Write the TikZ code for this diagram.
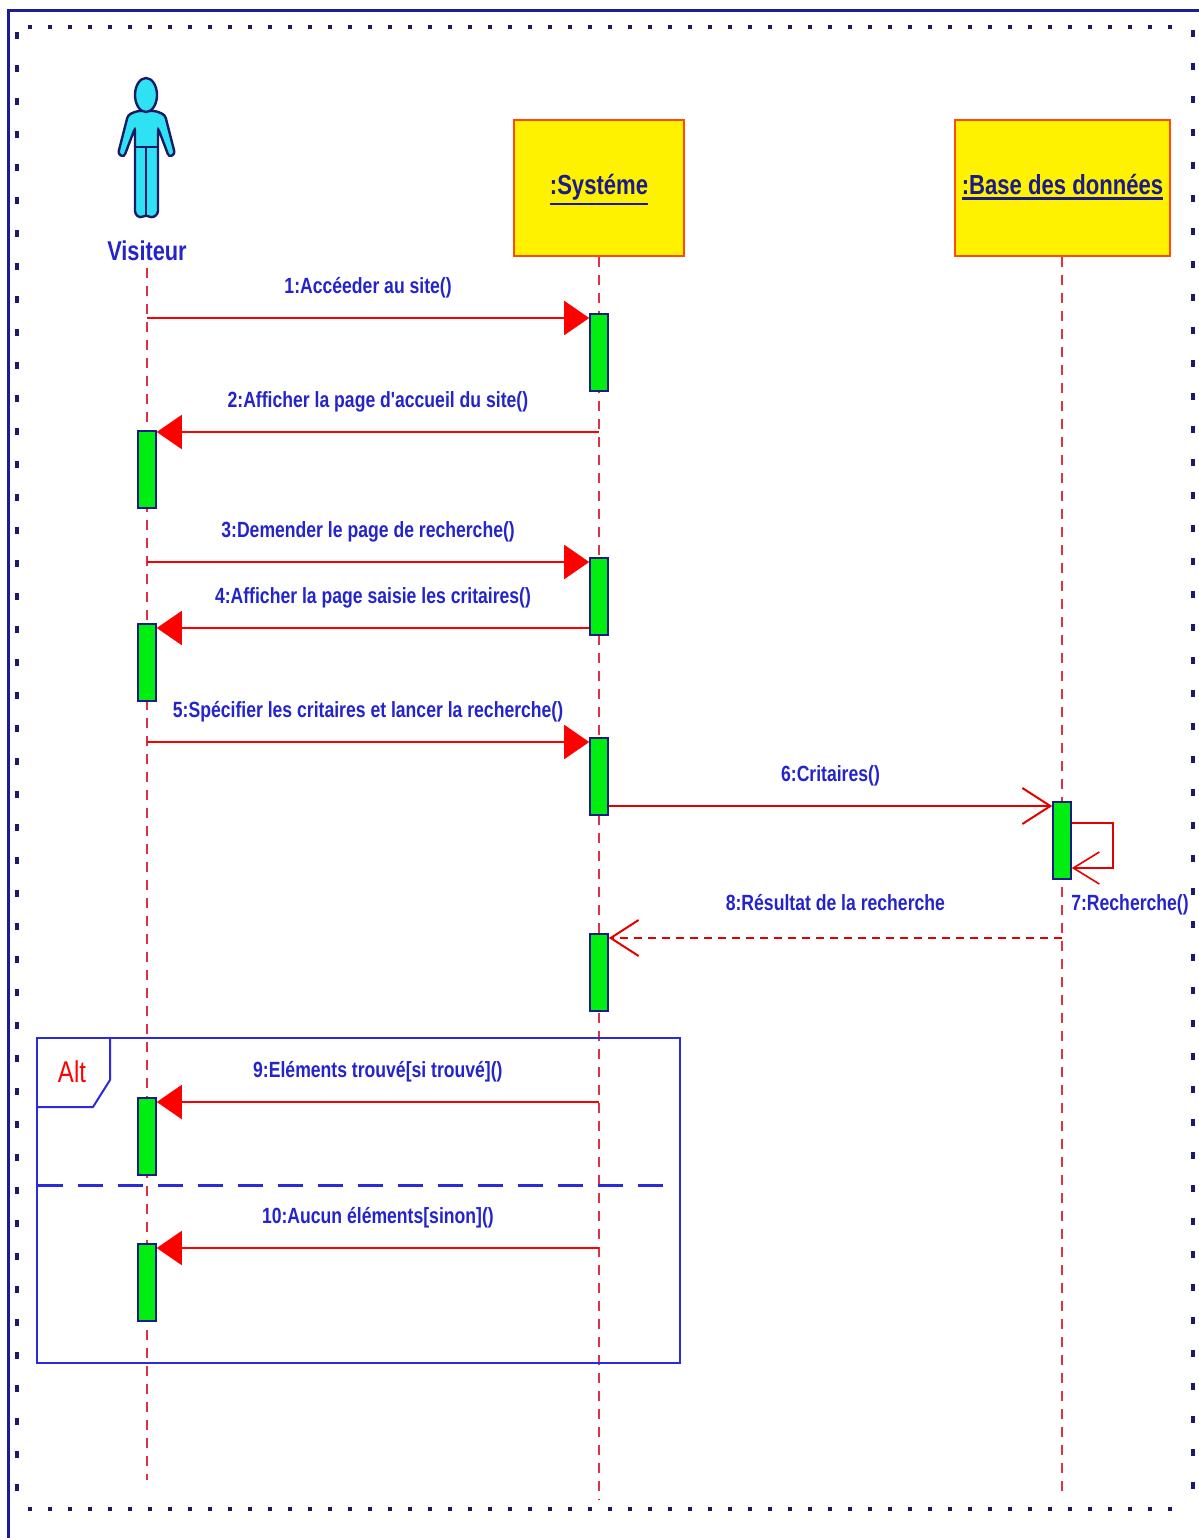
\documentclass[tikz,border=0pt]{standalone}
\usepackage{fontspec}
\setmainfont{Liberation Sans}[FakeStretch=0.8]
\newfontfamily\quotefont{Liberation Sans}[FakeStretch=0.8, Ligatures=TeXOff]
\usetikzlibrary{arrows.meta}
\newcommand{\thickul}[1]{\leavevmode\vtop{\hbox{#1}\kern1.6pt\hrule height 1.1pt}}
\newcommand{\sq}{{\quotefont\bfseries'}}
\definecolor{frameblue}{HTML}{1C1C96}
\definecolor{dotblue}{HTML}{1A1A66}
\definecolor{msgblue}{HTML}{2424CC}
\definecolor{titleblue}{HTML}{1A1A8C}
\definecolor{altblue}{HTML}{2A2AE0}
\definecolor{lifered}{HTML}{DD3344}
\definecolor{boxline}{HTML}{FF4A10}
\definecolor{barfill}{HTML}{00EE10}
\definecolor{actorfill}{HTML}{2EE2F4}

\begin{document}
\begin{tikzpicture}[x=0.5pt,y=-0.5pt,
    obj/.style={rectangle, draw=boxline, line width=1.2pt, fill=yellow, font=\fontsize{13.8}{16}\selectfont\bfseries, text=titleblue, text height=10pt, text depth=4pt},
    act/.style={rectangle, draw=titleblue, line width=0.8pt, fill=barfill, minimum width=9pt, minimum height=38.5pt, inner sep=0pt, anchor=north},
    life/.style={lifered, line width=1pt, dash pattern=on 5pt off 4pt},
    call/.style={red, line width=1pt, -{Triangle[length=12.5pt, width=17pt]}},
    async/.style={red!90!black, line width=1pt, -{Straight Barb[length=14pt, width=18pt]}},
    reply/.style={async, dash pattern=on 4pt off 3pt},
    lbl/.style={above=6pt, text=msgblue, font=\fontsize{11}{13}\selectfont\bfseries}]
    \useasboundingbox (0,0) rectangle (1199,1538);

    \draw[frameblue, line width=1.5pt] (8,1560) -- (8,10) -- (1220,10);
    \draw[dotblue, line width=2.2pt, dash pattern=on 1.8pt off 8.2pt] (28,27) -- (1185,27);
    \draw[dotblue, line width=2.2pt, dash pattern=on 1.8pt off 8.2pt] (28,1509) -- (1185,1509);
    \draw[dotblue, line width=1.8pt, dash pattern=on 3.5pt off 13pt] (17,32) -- (17,1512);
    \draw[dotblue, line width=1.8pt, dash pattern=on 3.5pt off 13pt] (1193,30) -- (1193,1512);

    \filldraw[fill=actorfill, draw=dotblue, line width=1.2pt, rounded corners=1.5pt]
        (137,111) -- (128,115) -- (118,154) -- (124,157) -- (135,128) -- (135,214) -- (140,218) -- (146,215)
        -- (152,218) -- (158,214) -- (158,128) -- (169,157) -- (175,154) -- (165,115) -- (156,111) -- cycle;
    \draw[dotblue, line width=1.2pt] (135,147) -- (158,147) (146,147) -- (146,215);
    \filldraw[fill=actorfill, draw=dotblue, line width=1.2pt] (146,95) ellipse (5.5pt and 8.5pt);

    \node[text=msgblue, font=\fontsize{13.6}{16}\selectfont\bfseries] (1) at (147,251) {Visiteur};
    \node[obj, minimum width=85pt, minimum height=68pt] (2) at (599,188) {\thickul{:Systéme}};
    \node[obj, minimum width=105.5pt, minimum height=68pt] (3) at (1062.5,188) {\thickul{:Base des données}};

    \coordinate (e1) at (147,1480);
    \coordinate (e2) at (599,1500);
    \coordinate (e3) at (1062,1495);
    \draw[life] (1.south) -- (e1);
    \draw[life] (2.south -| e2) -- (e2);
    \draw[life] (3.south -| e3) -- (e3);

    \draw[altblue, line width=1pt] (37,1038) rectangle (680,1363);
    \draw[altblue, line width=1pt] (110,1038) -- (110,1080) -- (93,1107) -- (37,1107);
    \node[text=red, font=\fontsize{15}{17}\selectfont] (13) at (72,1072) {Alt};
    \draw[altblue, line width=1.5pt, dash pattern=on 12.5pt off 7.5pt] (38,1185) -- (665,1185);

    \node[act] (4) at (599,313) {};
    \node[act] (5) at (147,430) {};
    \node[act] (6) at (599,557) {};
    \node[act] (7) at (147,623) {};
    \node[act] (8) at (599,737) {};
    \node[act] (9) at (1062,801) {};
    \node[act] (10) at (599,933) {};
    \node[act] (11) at (147,1097) {};
    \node[act] (12) at (147,1243) {};

    \coordinate (m1) at (147,318);
    \coordinate (m2) at (599,432);
    \coordinate (m3) at (147,562);
    \coordinate (m4) at (599,628);
    \coordinate (m5) at (147,742);
    \coordinate (m6) at (599,806);
    \coordinate (m8) at (1062,938);
    \coordinate (m9) at (599,1102);
    \coordinate (m10) at (599,1248);

    \path[every node/.style={lbl}]
        (m1) edge[call] node{1:Accéeder au site()} (m1 -| 4.west)
        (m2) edge[call] node{2:Afficher la page d\sq accueil du site()} (m2 -| 5.east)
        (m3) edge[call] node{3:Demender le page de recherche()} (m3 -| 6.west)
        (m4 -| 6.west) edge[call] node{4:Afficher la page saisie les critaires()} (m4 -| 7.east)
        (m5) edge[call] node{5:Spécifier les critaires et lancer la recherche()} (m5 -| 8.west)
        (m6 -| 8.east) edge[async] node{6:Critaires()} (m6 -| 9.west)
        (m8) edge[reply] node[above=4pt]{8:Résultat de la recherche} (m8 -| 10.east)
        (m9) edge[call] node{9:Eléments trouvé[si trouvé]()} (m9 -| 11.east)
        (m10) edge[call] node{10:Aucun éléments[sinon]()} (m10 -| 12.east)
        ;

    \draw[async, line width=0.8pt, -{Straight Barb[length=13pt, width=16pt]}]
        ([yshift=-11pt]9.north east) -- ++(41,0) -- ++(0,45) -- ([yshift=-33.5pt]9.north east);
    \node[text=msgblue, font=\fontsize{11}{13}\selectfont\bfseries] (14) at (1130,905) {7:Recherche()};
\end{tikzpicture}
\end{document}
